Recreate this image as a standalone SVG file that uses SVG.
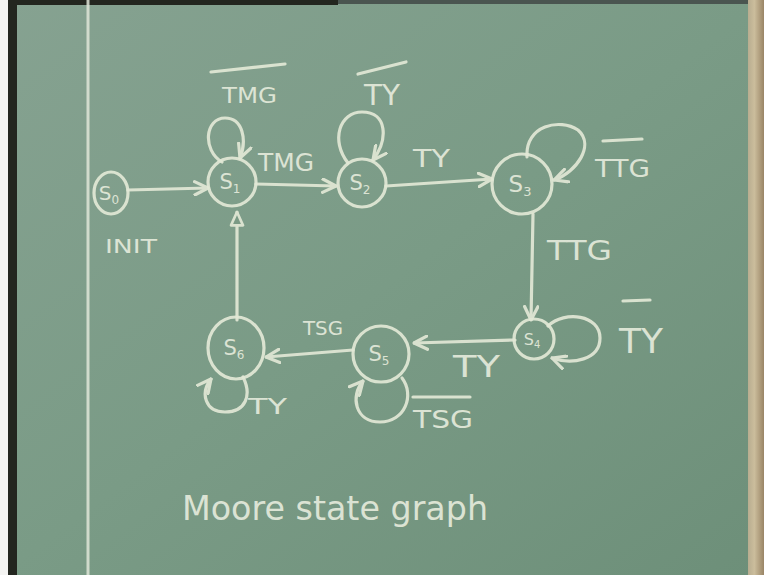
<svg xmlns="http://www.w3.org/2000/svg" width="764" height="575" viewBox="0 0 764 575">
<defs>
<linearGradient id="board" x1="0" y1="0" x2="1" y2="1">
<stop offset="0" stop-color="#86a291"/>
<stop offset="0.5" stop-color="#7a9b86"/>
<stop offset="1" stop-color="#6d8f79"/>
</linearGradient>
<linearGradient id="wood" x1="0" y1="0" x2="1" y2="0">
<stop offset="0" stop-color="#b8ad90"/>
<stop offset="0.4" stop-color="#cbbd9c"/>
<stop offset="1" stop-color="#9a8566"/>
</linearGradient>
<marker id="chev" markerUnits="userSpaceOnUse" markerWidth="16" markerHeight="16" viewBox="0 0 12 12" refX="11" refY="6" orient="auto">
<path d="M1,1 L11,6 L1,11" fill="none" stroke="#e2e8d6" stroke-width="2.4" stroke-linecap="round" stroke-linejoin="round"/>
</marker>
<marker id="tri" markerUnits="userSpaceOnUse" markerWidth="16" markerHeight="16" viewBox="0 0 12 12" refX="11" refY="6" orient="auto">
<path d="M1,1.5 L11,6 L1,10.5 Z" fill="#7b9a85" stroke="#e2e8d6" stroke-width="2" stroke-linejoin="round"/>
</marker>
<style>
.ch{fill:none;stroke:#e2e8d6;stroke-width:3.2;stroke-linecap:round;stroke-linejoin:round;opacity:0.92}
.t{font-family:"DejaVu Sans","Liberation Sans",sans-serif;fill:#e4eadb;opacity:0.92}
.nl{text-anchor:middle}
</style>
</defs>
<rect width="764" height="575" fill="url(#board)"/>
<rect x="0" y="0" width="8" height="575" fill="#f4f4f2"/>
<rect x="8" y="0" width="9" height="575" fill="#23261f"/>
<rect x="8" y="0" width="330" height="5" fill="#23261f"/>
<rect x="338" y="0" width="410" height="4" fill="#4a5550"/>
<rect x="748" y="0" width="16" height="575" fill="url(#wood)"/>
<line x1="88" y1="0" x2="88" y2="575" stroke="#dfe6d8" stroke-width="3" opacity="0.85"/>

<g id="connectors">
<path class="ch" d="M128,190 L208,188" marker-end="url(#chev)"/>
<path class="ch" d="M256,184 L336,186" marker-end="url(#chev)"/>
<path class="ch" d="M386,186 L492,179" marker-end="url(#chev)"/>
<path class="ch" d="M533,214 L531,320" marker-end="url(#chev)"/>
<path class="ch" d="M515,340 L414,343" marker-end="url(#chev)"/>
<path class="ch" d="M353,350 L266,357" marker-end="url(#chev)"/>
<path class="ch" d="M237,320 L237,212" marker-end="url(#tri)"/>
<path class="ch" d="M222,162 C202,150 205,118 225,118 C243,118 247,140 240,158" marker-end="url(#chev)"/>
<path class="ch" d="M348,163 C330,140 340,112 362,112 C388,112 388,140 373,160" marker-end="url(#chev)"/>
<path class="ch" d="M527,157 C525,125 560,118 578,130 C595,145 577,172 554,180" marker-end="url(#chev)"/>
<path class="ch" d="M548,326 C565,310 600,315 600,338 C600,360 572,365 552,358" marker-end="url(#chev)"/>
<path class="ch" d="M402,378 C415,395 405,422 380,422 C355,422 350,396 363,381" marker-end="url(#chev)"/>
<path class="ch" d="M243,377 C252,395 246,412 225,412 C205,412 200,393 211,379" marker-end="url(#chev)"/>
</g>

<g id="S0"><ellipse class="ch" cx="111" cy="193" rx="17" ry="21"/><text class="t nl" x="109" y="200" style="font-size:20px">S<tspan dy="4" style="font-size:12px">0</tspan></text><text class="t" x="105" y="253" style="font-size:20px" textLength="52" lengthAdjust="spacingAndGlyphs">INIT</text></g>
<g id="S1"><circle class="ch" cx="232" cy="182" r="24"/><text class="t nl" x="230" y="189" style="font-size:21px">S<tspan dy="4" style="font-size:12px">1</tspan></text></g>
<g id="S2"><circle class="ch" cx="362" cy="183" r="24"/><text class="t nl" x="360" y="190" style="font-size:21px">S<tspan dy="4" style="font-size:12px">2</tspan></text></g>
<g id="S3"><circle class="ch" cx="522" cy="184" r="30"/><text class="t nl" x="520" y="192" style="font-size:23px">S<tspan dy="4" style="font-size:13px">3</tspan></text></g>
<g id="S4"><circle class="ch" cx="534" cy="339" r="20"/><text class="t nl" x="532" y="345" style="font-size:16px">S<tspan dy="3" style="font-size:10px">4</tspan></text></g>
<g id="S5"><circle class="ch" cx="381" cy="354" r="28"/><text class="t nl" x="379" y="361" style="font-size:21px">S<tspan dy="4" style="font-size:12px">5</tspan></text></g>
<g id="S6"><ellipse class="ch" cx="236" cy="348" rx="28" ry="31"/><text class="t nl" x="234" y="355" style="font-size:21px">S<tspan dy="4" style="font-size:12px">6</tspan></text></g>

<g id="labels">
<text class="t" x="222" y="103" style="font-size:22px" textLength="55" lengthAdjust="spacingAndGlyphs">TMG</text>
<line class="ch" x1="211" y1="72" x2="285" y2="64"/>
<text class="t" x="258" y="171" style="font-size:24px" textLength="56" lengthAdjust="spacingAndGlyphs">TMG</text>
<text class="t" x="364" y="105" style="font-size:28px" textLength="36" lengthAdjust="spacingAndGlyphs">TY</text>
<line class="ch" x1="358" y1="74" x2="406" y2="62"/>
<text class="t" x="413" y="167" style="font-size:24px" textLength="37" lengthAdjust="spacingAndGlyphs">TY</text>
<text class="t" x="595" y="177" style="font-size:24px" textLength="55" lengthAdjust="spacingAndGlyphs">TTG</text>
<line class="ch" x1="603" y1="141" x2="642" y2="139"/>
<text class="t" x="547" y="260" style="font-size:27px" textLength="65" lengthAdjust="spacingAndGlyphs">TTG</text>
<text class="t" x="619" y="353" style="font-size:34px" textLength="44" lengthAdjust="spacingAndGlyphs">TY</text>
<line class="ch" x1="623" y1="301" x2="650" y2="300"/>
<text class="t" x="453" y="377" style="font-size:30px" textLength="47" lengthAdjust="spacingAndGlyphs">TY</text>
<text class="t" x="303" y="335" style="font-size:20px" textLength="40" lengthAdjust="spacingAndGlyphs">TSG</text>
<text class="t" x="413" y="428" style="font-size:24px" textLength="60" lengthAdjust="spacingAndGlyphs">TSG</text>
<line class="ch" x1="413" y1="397" x2="470" y2="397"/>
<text class="t" x="248" y="414" style="font-size:22px" textLength="39" lengthAdjust="spacingAndGlyphs">TY</text>
<text class="t" x="182" y="520" style="font-size:34px" textLength="306" lengthAdjust="spacingAndGlyphs">Moore state graph</text>
</g>
</svg>
